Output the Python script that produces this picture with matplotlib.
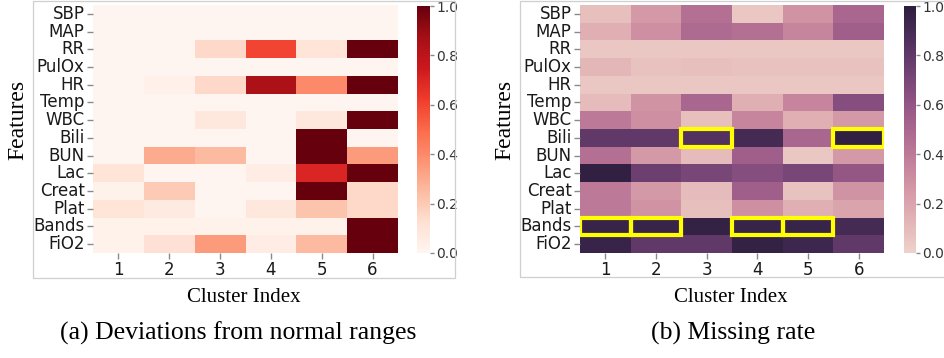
import matplotlib
matplotlib.use("Agg")
import numpy as np
import matplotlib.pyplot as plt
import seaborn as sns
from matplotlib.patches import Rectangle

features = ["SBP", "MAP", "RR", "PulOx", "HR", "Temp", "WBC", "Bili", "BUN",
            "Lac", "Creat", "Plat", "Bands", "FiO2"]
clusters = ["1", "2", "3", "4", "5", "6"]

# (a) Deviations from normal ranges
deviation = [
    [0.00, 0.00, 0.00, 0.00, 0.00, 0.00],  # SBP
    [0.00, 0.00, 0.00, 0.00, 0.00, 0.00],  # MAP
    [0.00, 0.00, 0.15, 0.60, 0.10, 1.00],  # RR
    [0.00, 0.00, 0.00, 0.00, 0.00, 0.00],  # PulOx
    [0.00, 0.03, 0.15, 0.85, 0.40, 1.00],  # HR
    [0.00, 0.00, 0.00, 0.00, 0.00, 0.00],  # Temp
    [0.00, 0.00, 0.08, 0.00, 0.08, 1.00],  # WBC
    [0.00, 0.00, 0.00, 0.00, 1.00, 0.00],  # Bili
    [0.00, 0.30, 0.25, 0.00, 1.00, 0.35],  # BUN
    [0.10, 0.00, 0.00, 0.05, 0.70, 1.00],  # Lac
    [0.02, 0.20, 0.00, 0.00, 1.00, 0.15],  # Creat
    [0.10, 0.07, 0.00, 0.08, 0.22, 0.15],  # Plat
    [0.02, 0.02, 0.02, 0.02, 0.02, 1.00],  # Bands
    [0.02, 0.12, 0.35, 0.05, 0.25, 1.00],  # FiO2
]

# (b) Missing rate
missing = [
    [0.08, 0.25, 0.45, 0.05, 0.28, 0.50],  # SBP
    [0.15, 0.30, 0.48, 0.45, 0.35, 0.55],  # MAP
    [0.05, 0.05, 0.05, 0.05, 0.05, 0.05],  # RR
    [0.12, 0.07, 0.08, 0.07, 0.07, 0.07],  # PulOx
    [0.05, 0.05, 0.05, 0.05, 0.05, 0.05],  # HR
    [0.10, 0.28, 0.50, 0.15, 0.35, 0.65],  # Temp
    [0.40, 0.30, 0.08, 0.35, 0.15, 0.25],  # WBC
    [0.80, 0.80, 0.85, 0.90, 0.50, 0.98],  # Bili
    [0.45, 0.25, 0.10, 0.55, 0.05, 0.25],  # BUN
    [0.98, 0.75, 0.70, 0.65, 0.70, 0.60],  # Lac
    [0.40, 0.25, 0.10, 0.55, 0.07, 0.28],  # Creat
    [0.40, 0.28, 0.08, 0.30, 0.15, 0.20],  # Plat
    [0.95, 0.95, 0.97, 0.95, 0.95, 0.90],  # Bands
    [0.95, 0.80, 0.80, 0.97, 0.93, 0.80],  # FiO2
]

highlight_cells = [("Bili", "3"), ("Bili", "6"), ("Bands", "1"),
                   ("Bands", "2"), ("Bands", "4"), ("Bands", "5")]

W, H = 944, 358
fig = plt.figure(figsize=(W / 100, H / 100), dpi=100)


def px_box(x0, y0, x1, y1):
    return [x0 / W, 1 - y1 / H, (x1 - x0) / W, (y1 - y0) / H]


# light gray frames around each sub-figure
for (x0, y0, x1, y1) in [(33, 1, 455, 278), (520, 1, 950, 277)]:
    fig.patches.append(Rectangle((x0 / W, 1 - y1 / H), (x1 - x0) / W, (y1 - y0) / H,
                                 transform=fig.transFigure, fill=False,
                                 edgecolor="#cfcfcf", lw=0.9))

ax1 = fig.add_axes(px_box(93, 5, 398, 253))
cax1 = fig.add_axes(px_box(417, 6, 430, 253))
ax2 = fig.add_axes(px_box(580, 5, 884, 253))
cax2 = fig.add_axes(px_box(903.5, 6, 916, 253))

cmap2 = sns.cubehelix_palette(as_cmap=True)

sns.heatmap(np.array(deviation), ax=ax1, cbar_ax=cax1, cmap="Reds", vmin=0, vmax=1,
            xticklabels=clusters, yticklabels=features)
sns.heatmap(np.array(missing), ax=ax2, cbar_ax=cax2, cmap=cmap2, vmin=0, vmax=1,
            xticklabels=clusters, yticklabels=features)

for (f, c) in highlight_cells:
    r = features.index(f)
    k = clusters.index(c)
    ax2.add_patch(Rectangle((k, r), 1, 1, fill=False, edgecolor="#ffff00", lw=3.0,
                            clip_on=True, zorder=5))

serif = ["Liberation Serif", "DejaVu Serif"]
for ax in (ax1, ax2):
    ax.tick_params(axis="both", color="#8a8a8a", labelcolor="#1a1a1a", length=4,
                   width=1, labelsize=12, pad=2)
    ax.set_yticklabels(features, rotation=0)
    ax.set_xticklabels(clusters, rotation=0)
    ax.set_xlabel("")
    ax.set_ylabel("")

fig.text(18 / W, 1 - 120 / H, "Features", rotation=90, ha="center", va="center",
         family=serif, fontsize=17)
fig.text(505 / W, 1 - 120 / H, "Features", rotation=90, ha="center", va="center",
         family=serif, fontsize=17)
fig.text(244 / W, 1 - 297 / H, "Cluster Index", ha="center", va="center",
         family=serif, fontsize=15)
fig.text(731 / W, 1 - 297 / H, "Cluster Index", ha="center", va="center",
         family=serif, fontsize=15)
fig.text(238 / W, 1 - 333 / H, "(a) Deviations from normal ranges", ha="center",
         va="center", family=serif, fontsize=18.5)
fig.text(733 / W, 1 - 333 / H, "(b) Missing rate", ha="center", va="center",
         family=serif, fontsize=18.5)

for cax in (cax1, cax2):
    cax.set_yticks([0, 0.2, 0.4, 0.6, 0.8, 1.0])
    cax.set_yticklabels(["0.0", "0.2", "0.4", "0.6", "0.8", "1.0"])
    cax.tick_params(labelsize=10, color="#8a8a8a", labelcolor="#333333", length=3,
                    width=1, pad=1.5)

fig.savefig("out.png", dpi=100)
